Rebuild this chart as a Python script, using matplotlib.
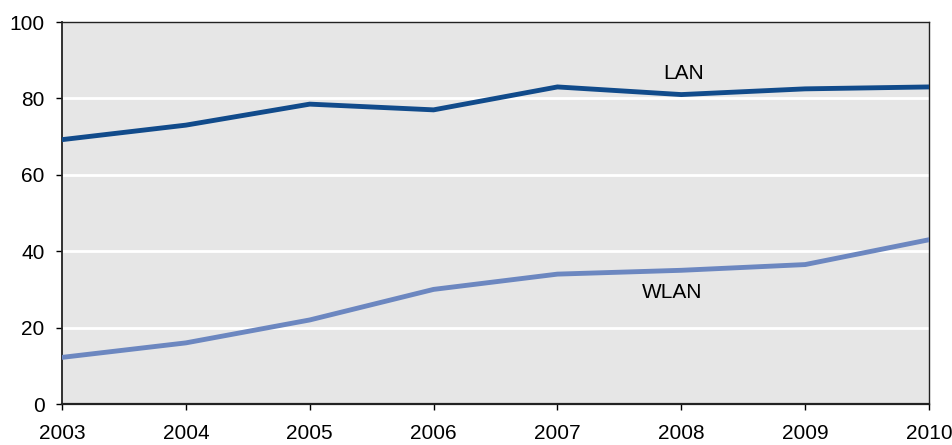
import numpy as np
import matplotlib.pyplot as plt

# data
years = [2003, 2004, 2005, 2006, 2007, 2008, 2009, 2010]
lan = [69.2, 73.0, 78.5, 77.0, 83.0, 81.0, 82.5, 83.0]
wlan = [12.2, 16.0, 22.0, 30.0, 34.0, 35.0, 36.5, 43.0]

plt.rcParams['font.family'] = ['Liberation Sans', 'DejaVu Sans']

fig = plt.figure(figsize=(9.53, 4.45), dpi=100)
ax = fig.add_axes([62/953, 1 - 404/445, (929-62)/953, (404-22)/445])

ax.set_facecolor('#e6e6e6')
ax.set_xlim(2003, 2010)
ax.set_ylim(0, 100)

for g in [20, 40, 60, 80]:
    ax.axhline(g, color='white', lw=2, zorder=1)

ax.plot(years, lan, color='#114b8b', lw=3.5, zorder=3, solid_joinstyle='miter')
ax.plot(years, wlan, color='#6c87c0', lw=3.5, zorder=3, solid_joinstyle='miter')

ax.text(2008.02, 86.6, 'LAN', ha='center', va='center', fontsize=15)
ax.text(2007.93, 29.3, 'WLAN', ha='center', va='center', fontsize=15)

ax.set_xticks(years)
ax.set_yticks(np.arange(0, 101, 20))
ax.tick_params(direction='out', length=4.5, width=1, labelsize=15)
ax.tick_params(axis='x', pad=10)
ax.tick_params(axis='y', pad=8)
for s in ax.spines.values():
    s.set_color('#222222')
    s.set_linewidth(1)
ax.spines['left'].set_linewidth(1.3)
ax.spines['bottom'].set_linewidth(1.6)

fig.savefig('out.png', dpi=100)
